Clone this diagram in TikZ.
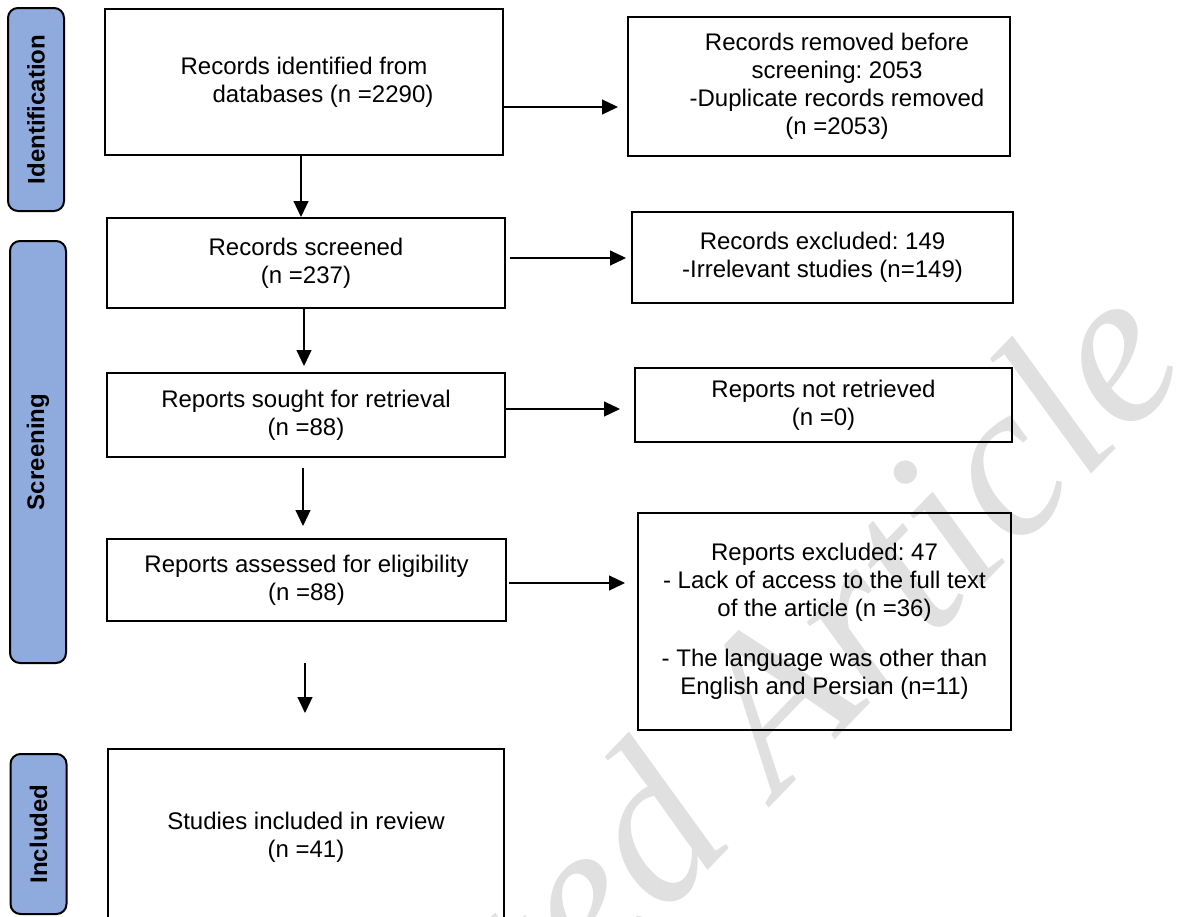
\documentclass[tikz,border=0pt]{standalone}
\usepackage{fontspec}
\setmainfont{Liberation Sans}
\newfontfamily\wmfont{Liberation Serif}
\usetikzlibrary{arrows.meta}
\definecolor{phase}{HTML}{8FAADC}
\definecolor{wmgray}{HTML}{E0E0E0}
\frenchspacing
\begin{document}
\begin{tikzpicture}[x=0.5pt,y=-0.5pt,
  box/.style={draw=black, line width=1pt, rectangle, inner sep=0pt, align=center,
    font=\fontsize{12}{14}\selectfont},
  phasebox/.style={draw=black, line width=1pt, fill=phase, rounded corners=5pt,
    inner sep=0pt, minimum width=28pt},
  phasetxt/.style={rotate=90, font=\bfseries\fontsize{12}{14}\selectfont, inner sep=0pt},
  arr/.style={-{Triangle[length=8pt,width=7.5pt]}, line width=0.6pt}]
\useasboundingbox (0,0) rectangle (1183,916);
\clip (0,0) rectangle (1183,916);

% watermark
\node[text=wmgray, rotate=46, inner sep=0pt,
  font=\wmfont\itshape\fontsize{110}{110}\selectfont] (wm) at (648,857) {Accepted Article};

% phase labels
\node[phasebox, minimum height=101.5pt] (L1) at (36,109.5) {};
\node[phasetxt] (L1t) at (L1.center) {Identification};
\node[phasebox, minimum height=211pt] (L2) at (38,452) {};
\node[phasetxt] (L2t) at (L2.center) {Screening};
\node[phasebox, minimum height=80pt] (L3) at (38.5,834) {};
\node[phasetxt] (L3t) at (L3.center) {Included};

% main column
\node[box, minimum width=199pt, minimum height=73pt] (B1) at (304,82)
  {Records identified from\\\hspace*{19pt}databases (n =2290)};
\node[box, minimum width=199pt, minimum height=45pt] (B2) at (306,263)
  {Records screened\\(n =237)};
\node[box, minimum width=199pt, minimum height=42pt] (B3) at (306,415)
  {Reports sought for retrieval\\(n =88)};
\node[box, minimum width=199.5pt, minimum height=41pt] (B4) at (306.5,580)
  {Reports assessed for eligibility\\(n =88)};
\node[box, minimum width=198pt, minimum height=88pt] (B5) at (306,837)
  {Studies included in review\\(n =41)};

% right column
\node[box, minimum width=191pt, minimum height=69.5pt] (R1) at (819,86.5)
  {\hspace*{18pt}Records removed before\\\hspace*{18pt}screening: 2053\\\hspace*{18pt}-Duplicate records removed\\\hspace*{18pt}(n =2053)};
\node[box, minimum width=190.5pt, minimum height=45.5pt] (R2) at (822.5,257.5)
  {Records excluded: 149\\-Irrelevant studies (n=149)};
\node[box, minimum width=188.5pt, minimum height=37pt] (R3) at (823.5,405)
  {Reports not retrieved\\(n =0)};
\node[box, minimum width=186.5pt, minimum height=108.5pt] (R4) at (824.5,621.5)
  {Reports excluded: 47\\- Lack of access to the full text\\of the article (n =36)\\[11pt]- The language was other than\\English and Persian (n=11)};

% connectors
\coordinate (hy1) at (0,107);
\coordinate (hy2) at (0,258);
\coordinate (hy3) at (0,409);
\coordinate (hy4) at (0,583);
\coordinate (vx1) at (301,0);
\coordinate (vx2) at (304,0);
\coordinate (vx3) at (303,0);
\coordinate (a4s) at (305,663);
\coordinate (a4e) at (305,713);

\draw[arr] (B1.south -| vx1) -- (B2.north -| vx1);
\draw[arr, shorten >=3pt] (B2.south -| vx2) -- (B3.north -| vx2);
\draw[arr, shorten <=5pt, shorten >=6pt] (B3.south -| vx3) -- (B4.north -| vx3);
\draw[arr] (a4s) -- (a4e);

\draw[arr, shorten >=4.5pt] (B1.east |- hy1) -- (R1.west |- hy1);
\draw[arr, shorten <=2pt, shorten >=2.5pt] (B2.east |- hy2) -- (R2.west |- hy2);
\draw[arr, shorten >=7pt] (B3.east |- hy3) -- (R3.west |- hy3);
\draw[arr, shorten <=1pt, shorten >=6pt] (B4.east |- hy4) -- (R4.west |- hy4);
\end{tikzpicture}
\end{document}
